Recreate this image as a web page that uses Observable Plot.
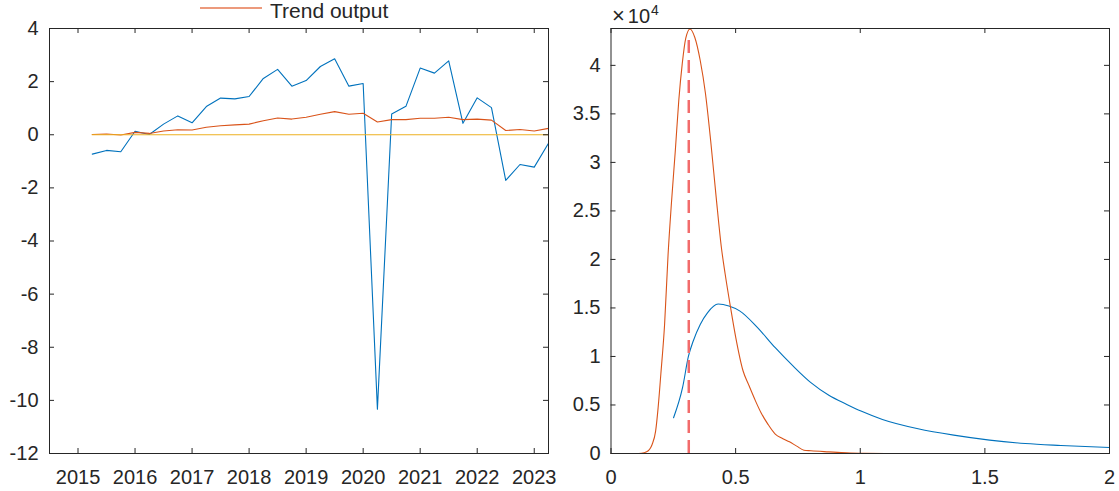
<!DOCTYPE html>
<html><head><meta charset="utf-8">
<script src="https://cdn.jsdelivr.net/npm/d3@7"></script>
<script src="https://cdn.jsdelivr.net/npm/@observablehq/plot@0.6"></script>
<style>
body{margin:0;background:#fff;}
#wrap{position:relative;width:1119px;height:491px;overflow:hidden;font-family:"Liberation Sans",Arial,Helvetica,sans-serif;color:#262626;background:#fff;}
.panel{position:absolute;top:0;}
.legline{position:absolute;left:200px;top:7px;width:62px;height:1.5px;background:#ec9a7c;}
.legtext{position:absolute;left:270px;top:0px;font-size:21px;line-height:21px;white-space:nowrap;}
.expo{position:absolute;left:612px;top:6.4px;font-size:20px;line-height:20px;white-space:nowrap;}
.expo .x{font-size:22px;margin-right:3px;}
.expo sup{font-size:14px;position:relative;top:-3px;vertical-align:top;line-height:14px;margin-left:1px;}
</style></head><body><div id="wrap"></div>
<script>
// ---------- Left panel data (quarterly) ----------
const quarters = [2015.25, 2015.5, 2015.75, 2016, 2016.25, 2016.5, 2016.75, 2017, 2017.25, 2017.5, 2017.75,
  2018, 2018.25, 2018.5, 2018.75, 2019, 2019.25, 2019.5, 2019.75, 2020, 2020.25, 2020.5, 2020.75,
  2021, 2021.25, 2021.5, 2021.75, 2022, 2022.25, 2022.5, 2022.75, 2023, 2023.25];
const outputSeries = [-0.73, -0.59, -0.64, 0.13, 0.01, 0.40, 0.71, 0.45, 1.06, 1.38, 1.35,
  1.44, 2.12, 2.46, 1.83, 2.04, 2.57, 2.86, 1.83, 1.93, -10.33, 0.78, 1.07,
  2.51, 2.32, 2.78, 0.43, 1.39, 1.02, -1.72, -1.12, -1.22, -0.32];
const trendOutput = [0.01, 0.03, -0.01, 0.09, 0.05, 0.14, 0.19, 0.18, 0.28, 0.34, 0.37,
  0.40, 0.53, 0.63, 0.59, 0.66, 0.77, 0.87, 0.77, 0.81, 0.48, 0.57, 0.57,
  0.62, 0.62, 0.66, 0.57, 0.59, 0.55, 0.16, 0.20, 0.14, 0.24];
const zeroLevel = 0;
const leftXTicks = [2015, 2016, 2017, 2018, 2019, 2020, 2021, 2022, 2023];
const leftYTicks = [-12, -10, -8, -6, -4, -2, 0, 2, 4];

// ---------- Right panel data (densities) ----------
const redX = [0, 0.05, 0.10, 0.122, 0.143, 0.165, 0.179, 0.189, 0.200, 0.215, 0.229, 0.243, 0.258, 0.272,
  0.286, 0.300, 0.317, 0.336, 0.358, 0.379, 0.400, 0.422, 0.443, 0.458, 0.480, 0.501, 0.530, 0.552,
  0.580, 0.602, 0.630, 0.659, 0.688, 0.716, 0.745, 0.774, 0.802, 0.874, 0.946, 1.017, 1.100, 1.210];
const redY = [0, 0, 0, 20, 170, 930, 2300, 4700, 8200, 13300, 20500, 26000, 31200, 36400,
  40200, 42800, 43750, 42900, 40500, 37100, 32200, 26400, 21200, 18500, 15000, 11900, 8500, 7100,
  5400, 4200, 3000, 2000, 1550, 1200, 760, 340, 280, 170, 70, 20, 0, 0];
const blueX = [0.251, 0.287, 0.311, 0.330, 0.358, 0.387, 0.430, 0.473, 0.516, 0.587, 0.659, 0.731,
  0.802, 0.874, 0.946, 1.003, 1.089, 1.232, 1.375, 1.519, 1.662, 1.805, 2.0];
const blueY = [3680, 6780, 10050, 11600, 13300, 14500, 15400, 15200, 14700, 13000, 10900, 9000,
  7300, 6000, 5060, 4370, 3510, 2550, 1890, 1380, 1030, 830, 620];
const modeX = 0.312;
const modeTop = 43000;
const rightXTicks = [0, 0.5, 1, 1.5, 2];
const rightYTicks = [0, 5000, 10000, 15000, 20000, 25000, 30000, 35000, 40000];

// ---------- styling ----------
const BLUE = "#0072BD", RED = "#D95319", YEL = "#EDB120", DASH = "#F26B6B", AX = "#262626";
const H = 491;
const font = {fontSize: "20px", fontFamily: "'Liberation Sans', Arial, Helvetica, sans-serif", color: AX, background: "transparent", overflow: "visible"};

function boxTicks(xt, yt, iw, ih) {
  return [
    Plot.tickY(yt, {y: d => d, stroke: AX, insetRight: iw - 5}),
    Plot.tickY(yt, {y: d => d, stroke: AX, insetLeft: iw - 5}),
    Plot.tickX(xt, {x: d => d, stroke: AX, insetTop: ih - 5}),
    Plot.tickX(xt, {x: d => d, stroke: AX, insetBottom: ih - 5})
  ];
}

const wrap = document.getElementById("wrap");

// Left
const L = {w: 560, ml: 49, mr: 12, mt: 28, mb: 38};
const liw = L.w - L.ml - L.mr, lih = H - L.mt - L.mb;
const leftRows = quarters.map((q, i) => ({q, out: outputSeries[i], trend: trendOutput[i]}));
const leftPlot = Plot.plot({
  width: L.w, height: H, marginLeft: L.ml, marginRight: L.mr, marginTop: L.mt, marginBottom: L.mb,
  style: font,
  x: {domain: [2014.5, 2023.25]},
  y: {domain: [-12, 4]},
  marks: [
    Plot.line(leftRows, {x: "q", y: "out", stroke: BLUE, strokeWidth: 1.1}),
    Plot.line(leftRows, {x: "q", y: "trend", stroke: RED, strokeWidth: 1.1}),
    Plot.ruleY([zeroLevel], {x1: quarters[0], x2: quarters[quarters.length - 1], stroke: YEL, strokeWidth: 1.1}),
    ...boxTicks(leftXTicks, leftYTicks, liw, lih),
    Plot.frame({stroke: AX}),
    Plot.axisX(leftXTicks, {tickSize: 0, tickPadding: 16.5, tickFormat: d => String(d), label: null}),
    Plot.axisY(leftYTicks, {tickSize: 0, tickPadding: 11, tickFormat: d => String(d), label: null})
  ]
});
leftPlot.classList.add("panel");
leftPlot.style.left = "0px";
wrap.appendChild(leftPlot);

// Right
const R = {w: 559, ml: 50.5, mr: 10, mt: 28, mb: 38};
const riw = R.w - R.ml - R.mr, rih = H - R.mt - R.mb;
const redRows = redX.map((x, i) => ({x, y: redY[i]}));
const blueRows = blueX.map((x, i) => ({x, y: blueY[i]}));
const rightPlot = Plot.plot({
  width: R.w, height: H, marginLeft: R.ml, marginRight: R.mr, marginTop: R.mt, marginBottom: R.mb,
  style: font,
  x: {domain: [0, 2]},
  y: {domain: [0, 43800]},
  marks: [
    Plot.line(blueRows, {x: "x", y: "y", stroke: BLUE, strokeWidth: 1.1, curve: "monotone-x"}),
    Plot.line(redRows, {x: "x", y: "y", stroke: RED, strokeWidth: 1.1, curve: "monotone-x"}),
    Plot.ruleX([modeX], {y1: 0, y2: modeTop, stroke: DASH, strokeWidth: 2.5, strokeDasharray: "13,7"}),
    ...boxTicks(rightXTicks, rightYTicks, riw, rih),
    Plot.frame({stroke: AX}),
    Plot.axisX(rightXTicks, {tickSize: 0, tickPadding: 16.5, tickFormat: d => String(d), label: null}),
    Plot.axisY(rightYTicks, {tickSize: 0, tickPadding: 10.5, tickFormat: d => String(d / 10000), label: null})
  ]
});
rightPlot.classList.add("panel");
rightPlot.style.left = "560px";
wrap.appendChild(rightPlot);

// Legend (at the very top edge) and exponent label
const legLine = document.createElement("div"); legLine.className = "legline"; wrap.appendChild(legLine);
const legText = document.createElement("div"); legText.className = "legtext"; legText.textContent = "Trend output"; wrap.appendChild(legText);
const expo = document.createElement("div"); expo.className = "expo"; expo.innerHTML = "<span class='x'>×</span>10<sup>4</sup>"; wrap.appendChild(expo);
</script></body></html>
